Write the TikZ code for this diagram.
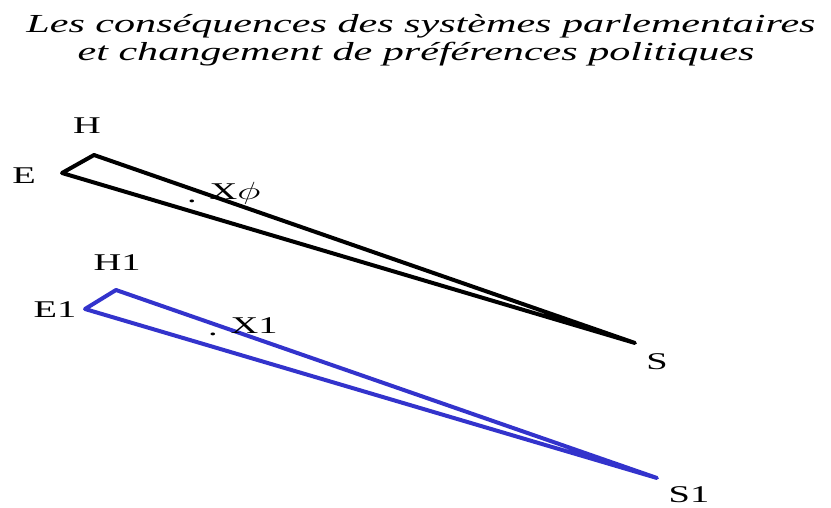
\documentclass[tikz,border=0pt]{standalone}
\usepackage{fontspec}
\setmainfont{Liberation Serif}
\usepackage{graphicx}
\newcommand\wide[1]{\scalebox{1.6}[1]{#1}}
\definecolor{triblue}{RGB}{51,51,204}
\begin{document}
\begin{tikzpicture}[x=1pt,y=-1pt,
  lbl/.style={font=\fontsize{24}{24}\selectfont, inner sep=0pt},
  ttl/.style={font=\fontsize{26}{26}\selectfont\itshape, inner sep=0pt, anchor=base},
  tri/.style={line width=4pt, line join=round}]
\useasboundingbox (0,0) rectangle (831,507);
\node[ttl] (t1) at (421,32) {\scalebox{1.62}[1]{Les conséquences des systèmes parlementaires}};
\node[ttl] (t2) at (416,60) {\scalebox{1.62}[1]{et changement de préférences politiques}};
% black triangle
\coordinate (E) at (62,173);
\coordinate (H) at (94,155);
\coordinate (S) at (635,343);
\draw[tri] (E) -- (H) -- (S) -- cycle;
\node[lbl] (lH) at (87,126) {\wide{H}};
\node[lbl] (lE) at (24,176) {\wide{E}};
\node[lbl] (lS) at (657,362) {\wide{S}};
\node[lbl, anchor=base] (dX) at (192,202) {\wide{.}};
\node[lbl] (lX) at (235,193) {\wide{X$\phi$}};
% blue triangle
\coordinate (E1) at (85,309);
\coordinate (H1) at (116,290);
\coordinate (S1) at (657,478);
\draw[tri, triblue] (E1) -- (H1) -- (S1) -- cycle;
\node[lbl] (lH1) at (117,263) {\wide{H1}};
\node[lbl] (lE1) at (55,310) {\wide{E1}};
\node[lbl] (lS1) at (689,495) {\wide{S1}};
\node[lbl, anchor=base] (dX1) at (213,335) {\wide{.}};
\node[lbl] (lX1) at (254,326) {\wide{X1}};
\end{tikzpicture}
\end{document}
